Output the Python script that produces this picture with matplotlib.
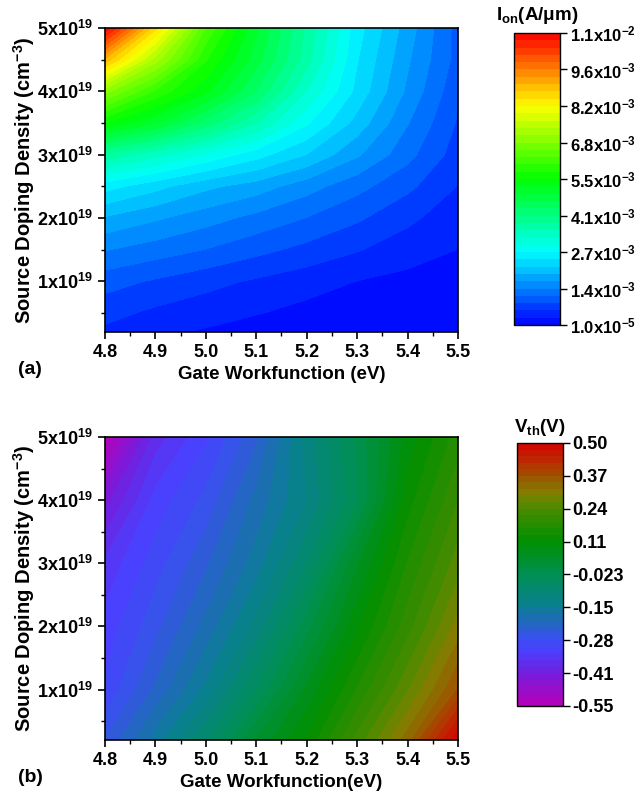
import numpy as np
import matplotlib
matplotlib.use("Agg")
import matplotlib.pyplot as plt
from matplotlib.colors import LinearSegmentedColormap
from matplotlib.ticker import MultipleLocator, FormatStrFormatter

plt.rcParams['font.family'] = 'Liberation Sans'
plt.rcParams['font.weight'] = 'bold'
plt.rcParams['mathtext.fontset'] = 'custom'
plt.rcParams['mathtext.rm'] = 'Liberation Sans:bold'
plt.rcParams['mathtext.it'] = 'Liberation Sans:bold'
plt.rcParams['mathtext.bf'] = 'Liberation Sans:bold'
plt.rcParams['mathtext.default'] = 'rm'

# gate workfunction (eV) and source doping (x1e19 cm^-3)
workfunction = [4.8, 4.9, 5.0, 5.1, 5.2, 5.3, 5.4, 5.5]
doping_ion = [0.2, 0.5, 1.0, 1.5, 2.0, 2.5, 3.0, 3.5, 4.0, 4.5, 5.0]
doping_vth = [0.2, 1.0, 2.0, 3.0, 4.0, 5.0]

# Ion (x1e-3 A/um), rows follow doping_ion
ion = [
    [0.50, 0.35, 0.25, 0.15, 0.10, 0.06, 0.04, 0.02],
    [0.65, 0.50, 0.40, 0.30, 0.20, 0.14, 0.09, 0.05],
    [0.95, 0.80, 0.65, 0.52, 0.40, 0.28, 0.20, 0.12],
    [1.40, 1.25, 1.10, 0.92, 0.75, 0.58, 0.42, 0.28],
    [1.90, 1.70, 1.50, 1.30, 1.10, 0.88, 0.62, 0.40],
    [2.60, 2.30, 2.00, 1.80, 1.50, 1.20, 0.90, 0.55],
    [3.80, 3.40, 3.00, 2.60, 2.20, 1.70, 1.20, 0.70],
    [5.50, 5.00, 4.30, 3.60, 2.80, 2.10, 1.40, 0.80],
    [7.00, 6.00, 5.30, 4.40, 3.30, 2.40, 1.60, 0.90],
    [9.00, 7.30, 5.80, 4.80, 3.70, 2.50, 1.70, 1.00],
    [11.0, 8.60, 6.30, 5.00, 3.80, 2.60, 1.80, 1.00],
]

# Vth (V), rows follow doping_vth
vth = [
    [-0.26, -0.17, -0.08, 0.03, 0.11, 0.22, 0.33, 0.50],
    [-0.31, -0.23, -0.15, -0.05, 0.06, 0.16, 0.26, 0.37],
    [-0.33, -0.27, -0.20, -0.12, -0.01, 0.10, 0.20, 0.30],
    [-0.36, -0.30, -0.24, -0.17, -0.08, 0.05, 0.16, 0.25],
    [-0.43, -0.33, -0.28, -0.20, -0.13, -0.03, 0.12, 0.21],
    [-0.55, -0.38, -0.32, -0.24, -0.12, -0.02, 0.09, 0.17],
]

ion_ticks = ['1.0x10$^{-5}$', '1.4x10$^{-3}$', '2.7x10$^{-3}$', '4.1x10$^{-3}$', '5.5x10$^{-3}$',
             '6.8x10$^{-3}$', '8.2x10$^{-3}$', '9.6x10$^{-3}$', '1.1x10$^{-2}$']
vth_ticks = ['-0.55', '-0.41', '-0.28', '-0.15', '-0.023', '0.11', '0.24', '0.37', '0.50']
y_ticks = ['1x10$^{19}$', '2x10$^{19}$', '3x10$^{19}$', '4x10$^{19}$', '5x10$^{19}$']

cmap_ion = LinearSegmentedColormap.from_list('ion', [
    (0.0, '#0000ff'), (0.25, '#00ffff'), (0.5, '#00ff00'), (0.75, '#ffff00'), (1.0, '#ff0000')])
cmap_vth = LinearSegmentedColormap.from_list('vth', [
    (0.0, '#b800b8'), (0.133, '#7020e0'), (0.21, '#4a40ff'), (0.257, '#3a50f0'),
    (0.38, '#0a8090'), (0.502, '#009050'), (0.628, '#009000'), (0.752, '#4a8a00'),
    (0.81, '#808000'), (0.876, '#a05000'), (1.0, '#d80000')])

fig = plt.figure(figsize=(6.41, 7.97), dpi=100)


def style_axes(ax, xlabel):
    ax.set_xlim(4.8, 5.5)
    ax.set_ylim(0.2, 5.0)
    ax.xaxis.set_major_locator(MultipleLocator(0.1))
    ax.xaxis.set_minor_locator(MultipleLocator(0.05))
    ax.xaxis.set_major_formatter(FormatStrFormatter('%.1f'))
    ax.set_yticks([1, 2, 3, 4, 5])
    ax.set_yticklabels(y_ticks)
    ax.yaxis.set_minor_locator(MultipleLocator(0.5))
    ax.tick_params(which='major', direction='out', length=5, width=1.2, labelsize=13)
    ax.tick_params(which='minor', direction='out', length=3, width=1.0)
    for s in ax.spines.values():
        s.set_linewidth(1.2)
    ax.set_xlabel(xlabel, fontsize=13.5, fontweight='bold', labelpad=4)
    ax.set_ylabel('Source Doping Density (cm$^{-3}$)', fontsize=14.5, fontweight='bold')
    ax.yaxis.set_label_coords(-0.193, 0.5)


def style_cbar(cb, labels, size):
    cb.set_ticklabels(labels)
    cb.ax.tick_params(direction='out', length=5, width=1.0, labelsize=size, pad=2)
    cb.outline.set_linewidth(1.0)


# (a) Ion
ax1 = fig.add_axes([0.1638, 0.5834, 0.5507, 0.3815])
X, Y = np.meshgrid(workfunction, doping_ion)
lv1 = np.linspace(0.01, 11.0, 41)
cf1 = ax1.contourf(X, Y, np.clip(np.array(ion), 0.01, 11.0), levels=lv1, cmap=cmap_ion)
style_axes(ax1, 'Gate Workfunction (eV)')
cax1 = fig.add_axes([0.8019, 0.5922, 0.0718, 0.3664])
cb1 = fig.colorbar(cf1, cax=cax1, ticks=np.linspace(0.01, 11.0, 9))
style_cbar(cb1, ion_ticks, 12)
fig.text(0.838, 0.981, 'I$_{on}$(A/\u03bcm)', ha='center', va='center', fontsize=13.5)
fig.text(0.028, 0.536, '(a)', fontsize=14, va='center')

# (b) Vth
ax2 = fig.add_axes([0.1638, 0.0715, 0.5507, 0.3802])
X2, Y2 = np.meshgrid(workfunction, doping_vth)
lv2 = np.linspace(-0.55, 0.50, 41)
cf2 = ax2.contourf(X2, Y2, np.clip(np.array(vth), -0.55, 0.50), levels=lv2, cmap=cmap_vth)
style_axes(ax2, 'Gate Workfunction(eV)')
cax2 = fig.add_axes([0.8065, 0.1142, 0.0718, 0.33])
cb2 = fig.colorbar(cf2, cax=cax2, ticks=np.linspace(-0.55, 0.50, 9))
style_cbar(cb2, vth_ticks, 13)
fig.text(0.842, 0.463, 'V$_{th}$(V)', ha='center', va='center', fontsize=13.5)
fig.text(0.028, 0.024, '(b)', fontsize=14, va='center')

fig.savefig('out.png', dpi=100)
